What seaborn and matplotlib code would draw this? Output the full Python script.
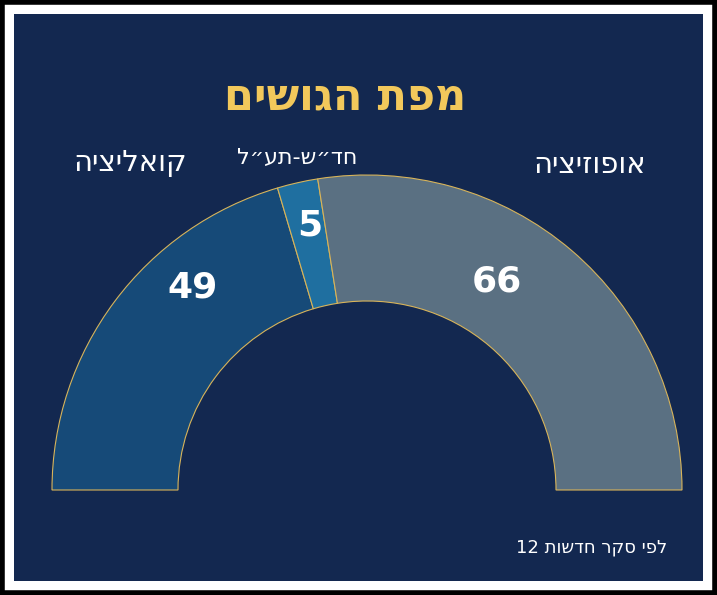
import matplotlib
matplotlib.use("Agg")
import matplotlib.pyplot as plt
import seaborn as sns
from matplotlib.patches import Rectangle

sns.set_theme(style="white")
plt.rcParams['font.family'] = ['DejaVu Sans']

blocs = ["קואליציה", "חד״ש-תע״ל", "אופוזיציה"]
seats = [49, 5, 66]
colors = ["#164a78", "#1f6fa0", "#5a7082"]
title = "מפת הגושים"
source_words = ["לפי", "סקר", "חדשות"]
source_num = "12"

def vis(s):
    return s[::-1]

fig = plt.figure(figsize=(7.17, 5.95), dpi=100, facecolor="white")
ax = fig.add_axes([0, 0, 1, 1])
ax.add_patch(Rectangle((2, 2), 713, 591, fill=False, ec="black", lw=4))
ax.add_patch(Rectangle((14, 14), 689, 567, fc="#132850", ec="none"))

total = sum(seats)
wedges, _ = ax.pie(seats + [total], colors=colors + ["none"], startangle=180,
                   counterclock=False, center=(367, 105), radius=315,
                   wedgeprops=dict(width=126, edgecolor="#d8b45a", linewidth=0.8),
                   frame=True)
wedges[-1].set_edgecolor("none")
ax.set_xlim(0, 717); ax.set_ylim(0, 595); ax.set_aspect("equal"); ax.axis("off")

ax.text(345, 498, vis(title), color="#f2c85b", fontsize=31, fontweight="bold", ha="center", va="center")
ax.text(130, 432, vis(blocs[0]), color="white", fontsize=21, ha="center", va="center")
ax.text(297, 437, vis(blocs[1]), color="white", fontsize=16, ha="center", va="center")
ax.text(590, 430, vis(blocs[2]), color="white", fontsize=21, ha="center", va="center")
ax.text(193, 307, str(seats[0]), color="white", fontsize=26, fontweight="bold", ha="center", va="center")
ax.text(310, 369, str(seats[1]), color="white", fontsize=26, fontweight="bold", ha="center", va="center")
ax.text(497, 314, str(seats[2]), color="white", fontsize=26, fontweight="bold", ha="center", va="center")
src = source_num + " " + " ".join(vis(w) for w in reversed(source_words))
ax.text(667, 47, src, color="white", fontsize=13, ha="right", va="center")

fig.savefig("out.png", dpi=100, facecolor="white")
